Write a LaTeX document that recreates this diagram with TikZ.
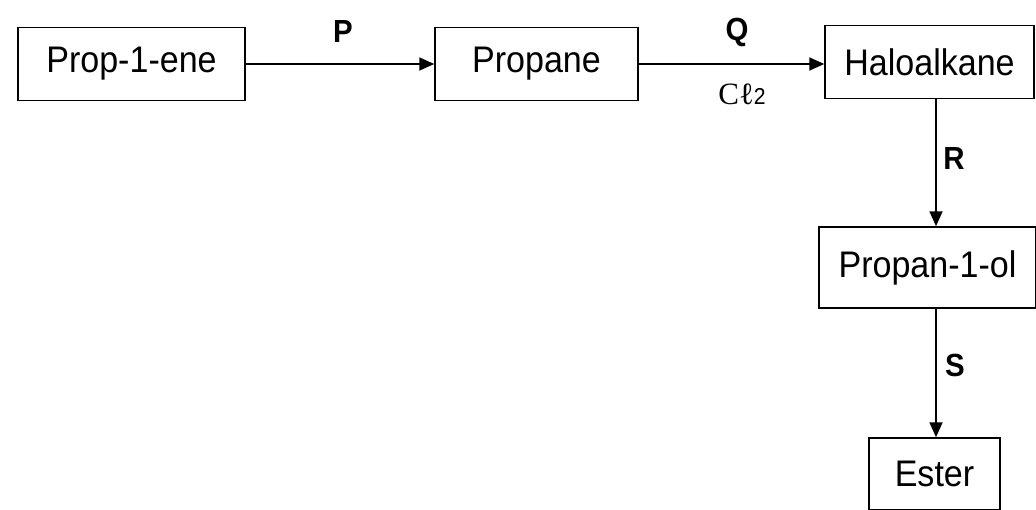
\documentclass[tikz,border=0pt]{standalone}
\usepackage{fontspec}
\setmainfont{Liberation Sans}[FakeStretch=0.92]
\newfontfamily\serifchem{Liberation Serif}
\usetikzlibrary{arrows.meta}
\begin{document}
\begin{tikzpicture}[x=1pt,y=1pt,
  box/.style={draw=black,line width=1.5pt,rectangle,inner sep=0pt,
    font=\fontsize{37}{40}\selectfont},
  arr/.style={line width=1.8pt,-{Triangle[length=15pt,width=13pt]}},
  lab/.style={font=\fontsize{32}{35}\selectfont\bfseries,inner sep=0pt}]
\fill[white] (0,0) rectangle (1036,-509);
\useasboundingbox (0,0) rectangle (1036,-509);
\clip (0,0) rectangle (1036,-509);
\node[box,minimum width=227pt,minimum height=73pt] (prop) at (131.5,-64) {Prop-1-ene};
\node[box,minimum width=203pt,minimum height=73pt] (propane) at (536.5,-64) {Propane};
\node[box,minimum width=209pt,minimum height=73pt] (halo) at (929.5,-62) {Haloalkane};
\node[box,minimum width=217pt,minimum height=81pt] (prol) at (927.5,-267.5) {Propan-1-ol};
\node[box,minimum width=131pt,minimum height=72pt] (ester) at (934.5,-474) {Ester};
\coordinate (vx) at (936,0);
\draw[arr] (prop.east) -- (propane.west);
\draw[arr] (propane.east) -- (propane.east -| halo.west);
\draw[arr] (halo.south -| vx) -- (prol.north -| vx);
\draw[arr] (prol.south -| vx) -- (ester.north -| vx);
\node[lab] (p) at (343,-31) {P};
\node[lab] (q) at (737,-32) {Q};
\node[inner sep=0pt,font=\fontsize{31}{34}\selectfont] (cl) at (742,-94) {{\serifchem Cℓ}{\fontsize{23}{25}\selectfont 2}};
\node[lab] (r) at (954,-158) {R};
\node[lab] (s) at (955,-365) {S};
\end{tikzpicture}
\end{document}
